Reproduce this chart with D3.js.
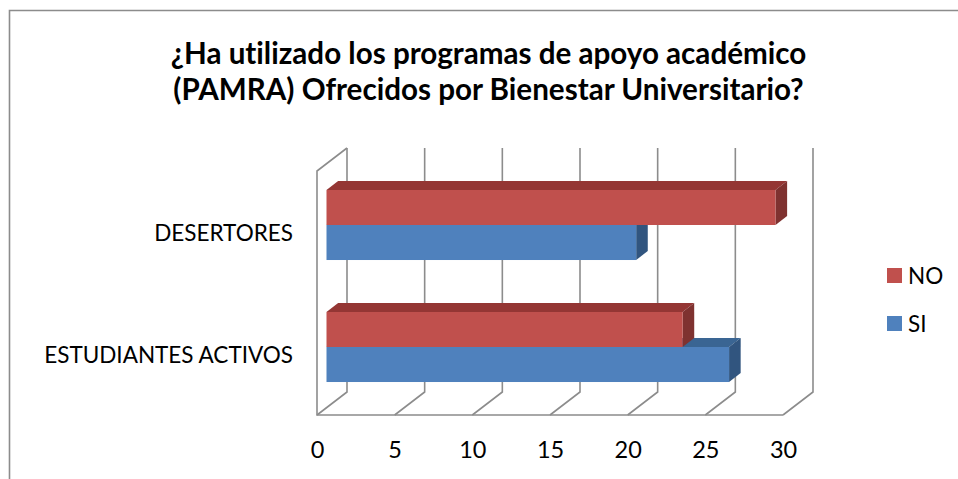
<!DOCTYPE html>
<html>
<head>
<meta charset="utf-8">
<script src="https://cdn.jsdelivr.net/npm/d3@7"></script>
<style>
  html, body { margin: 0; padding: 0; background: #fff; overflow: hidden; }
  text { font-family: Lato, "Open Sans", sans-serif; fill: #000; font-variant-ligatures: none; }
  .grid { fill: none; stroke: #8c8c8c; stroke-width: 1.6; }
</style>
</head>
<body>
<svg id="chart" width="958" height="479"></svg>
<script>
'use strict';
const titleLines = ['¿Ha utilizado los programas de apoyo académico', '(PAMRA) Ofrecidos por Bienestar Universitario?'];
const categories = ['ESTUDIANTES ACTIVOS', 'DESERTORES'];
const seriesNames = ['NO', 'SI'];
const si = [26, 20];
const no = [23, 29];
const tickValues = [0, 5, 10, 15, 20, 25, 30];

const colors = {
  SI: {front: '#4f81bd', top: '#3a6593', side: '#31557f'},
  NO: {front: '#c0504d', top: '#943634', side: '#7f3230'}
};

const svg = d3.select('#chart');

// Front plane of the fake 3D box, the rest is offset from it
const x = d3.scaleLinear().domain([0, 30]).range([317, 783]);
const floorY = 415, topY = 171;
const wall = {dx: 30, dy: -23};
const barPlane = {dy: -7};
const barDepth = {dx: 11.6, dy: -9};
// Bars sit a little deeper so they get their own slightly narrower scale
const xBar = d3.scaleLinear().domain([0, 30]).range([326.5, 791]);

const y = d3.scaleBand().domain(categories)
  .range([floorY + barPlane.dy, topY + barPlane.dy])
  .paddingInner(0.426).paddingOuter(0.213);
// NO sits above SI inside each band
const ySub = d3.scaleBand().domain(seriesNames).range([0, y.bandwidth()]);

// Chart border, only the top and left show in the crop
svg.append('path').attr('d', 'M958,10.5H9.5V479')
  .attr('fill', 'none').attr('stroke', '#8c8c8c').attr('stroke-width', 1.6);

// Title
svg.append('g').selectAll('text').data(titleLines).enter().append('text')
  .attr('x', 488.5).attr('y', (_, i) => 64 + i * 36)
  .attr('text-anchor', 'middle')
  .style('font-size', '29.6px').style('font-weight', 700)
  .text(d => d);

// Walls and gridlines
const grid = svg.append('g');
grid.selectAll('path.back').data(tickValues).enter().append('path')
  .attr('class', 'grid back')
  .attr('d', d => `M${x(d) + wall.dx},${topY + wall.dy}V${floorY + wall.dy}L${x(d)},${floorY}`);
grid.append('path').attr('class', 'grid')
  .attr('d', `M${x(0) + wall.dx},${topY + wall.dy}L${x(0)},${topY}V${floorY}H${x(30)}`);

// Bars
const rows = [];
categories.forEach((cat, i) => {
  rows.push({cat, name: 'SI', value: si[i]});
  rows.push({cat, name: 'NO', value: no[i]});
});
const bars = svg.append('g').selectAll('g').data(rows).enter().append('g');
const x0 = () => xBar(0);
const x1 = d => xBar(d.value);
const y0 = d => y(d.cat) + ySub(d.name);
const h = ySub.bandwidth();

bars.append('path').attr('fill', d => colors[d.name].top)
  .attr('d', d => `M${x0(d)},${y0(d)}l${barDepth.dx},${barDepth.dy}H${x1(d) + barDepth.dx}L${x1(d)},${y0(d)}Z`);
bars.append('path').attr('fill', d => colors[d.name].side)
  .attr('d', d => `M${x1(d)},${y0(d)}l${barDepth.dx},${barDepth.dy}v${h}l${-barDepth.dx},${-barDepth.dy}Z`);
bars.append('rect').attr('fill', d => colors[d.name].front)
  .attr('x', x0).attr('y', y0)
  .attr('width', d => x1(d) - x0(d)).attr('height', h);

// Value axis
const xAxis = svg.append('g').attr('transform', 'translate(0,441)')
  .call(d3.axisBottom(x).tickValues(tickValues).tickSize(0).tickPadding(0));
xAxis.select('.domain').remove();
xAxis.selectAll('text').style('font-family', 'Lato, sans-serif').style('font-size', '23.5px').attr('fill', '#000');

// Category labels
svg.append('g').selectAll('text').data(categories).enter().append('text')
  .attr('x', 293).attr('y', d => y(d) + y.bandwidth() / 2 + 16)
  .attr('text-anchor', 'end')
  .style('font-size', '22.5px')
  .text(d => d);

// Legend
const legend = svg.append('g').selectAll('g').data(seriesNames).enter().append('g')
  .attr('transform', (_, i) => `translate(887,${268 + i * 48})`);
legend.append('rect').attr('width', 15).attr('height', 15).attr('fill', d => colors[d].front);
legend.append('text').attr('x', 21).attr('y', 16).style('font-size', '22.5px').text(d => d);
</script>
</body>
</html>
